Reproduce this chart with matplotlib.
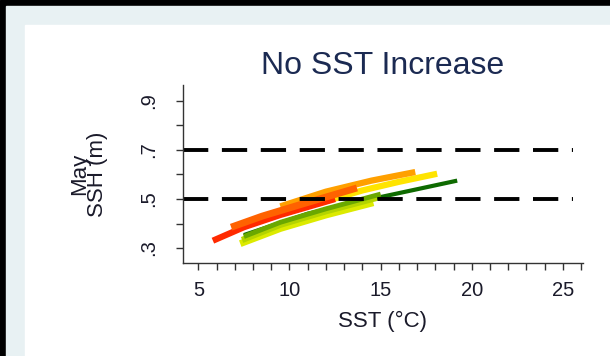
import matplotlib
matplotlib.use('Agg')
import matplotlib.pyplot as plt
from matplotlib.patches import Rectangle
from matplotlib.ticker import MultipleLocator

plt.rcParams['font.family'] = ['Liberation Sans', 'DejaVu Sans']

# series: SST (deg C) vs May SSH (m)
red_x = [5.8, 7.5, 9.5, 12.5]
red_y = [0.33, 0.385, 0.435, 0.50]
orange_red_x = [6.8, 8.5, 10.5, 13.7]
orange_red_y = [0.385, 0.43, 0.475, 0.545]
orange_x = [9.5, 12.0, 14.5, 16.9]
orange_y = [0.47, 0.53, 0.575, 0.61]
yellow_x = [11.5, 14.0, 16.0, 18.1]
yellow_y = [0.48, 0.535, 0.57, 0.603]
lime_x = [7.3, 9.5, 12.0, 14.6]
lime_y = [0.318, 0.38, 0.435, 0.485]
yellowgreen_x = [7.4, 9.5, 12.0, 14.8]
yellowgreen_y = [0.333, 0.395, 0.45, 0.505]
green_x = [7.5, 9.5, 12.0, 15.0]
green_y = [0.347, 0.405, 0.46, 0.52]
darkgreen_x = [7.5, 11.0, 15.0, 19.2]
darkgreen_y = [0.353, 0.44, 0.508, 0.575]

thresholds = [0.5, 0.7]
xticks = [5, 10, 15, 20, 25]
yticks = [0.3, 0.5, 0.7, 0.9]
ytick_labels = ['.3', '.5', '.7', '.9']

fig = plt.figure(figsize=(6.1, 3.56), dpi=100)
fig.patch.set_facecolor('white')
W, H = 610, 356
# frame of the screenshot
fig.add_artist(Rectangle((0, 0), 1, 1, transform=fig.transFigure, color='black', zorder=-3))
fig.add_artist(Rectangle((6 / W, 0), 1, 1 - 6 / H, transform=fig.transFigure, color='#e8f1f3', zorder=-2))
fig.add_artist(Rectangle((25 / W, 0), 1, 1 - 25 / H, transform=fig.transFigure, color='white', zorder=-1))

ax = fig.add_axes([183 / W, 1 - 263 / H, 400 / W, 178 / H])
ax.patch.set_alpha(0)

series = [
    (darkgreen_x, darkgreen_y, '#0e6a00', 3.0),
    (yellow_x, yellow_y, '#ffe400', 4.5),
    (orange_x, orange_y, '#ffa000', 4.5),
    (red_x, red_y, '#ff2a00', 4.5),
    (orange_red_x, orange_red_y, '#ff6200', 5.0),
    (lime_x, lime_y, '#dcea00', 5.0),
    (yellowgreen_x, yellowgreen_y, '#b4d400', 4.5),
    (green_x, green_y, '#6aa800', 3.5),
]
for xs, ys, c, w in series:
    ax.plot(xs, ys, color=c, lw=w, solid_capstyle='butt')

for t in thresholds:
    ax.axhline(t, xmax=0.975, color='black', lw=2.8, dashes=(6.5, 3.5))

ax.set_xlim(4.16, 26.1)
ax.set_ylim(0.239, 0.965)
ax.spines['top'].set_visible(False)
ax.spines['right'].set_visible(False)
for s in ('left', 'bottom'):
    ax.spines[s].set_color('#333333')
    ax.spines[s].set_linewidth(1.0)

ax.set_xticks(xticks)
ax.xaxis.set_minor_locator(MultipleLocator(1))
ax.set_yticks(yticks)
ax.set_yticklabels(ytick_labels, rotation=90, va='center')
ax.yaxis.set_minor_locator(MultipleLocator(0.1))
ax.tick_params(which='both', length=5, width=1, color='#333333', direction='out')
ax.tick_params(axis='x', labelsize=14.5, labelcolor='#1a1a2a', pad=8)
ax.tick_params(axis='y', labelsize=14.5, labelcolor='#1a1a2a', pad=13)

ax.set_title('No SST Increase', fontsize=23, color='#1b2a52', pad=8)
ax.set_xlabel('SST (°C)', fontsize=16, color='#1a1a2a', labelpad=8)
ax.set_ylabel('May\nSSH (m)', fontsize=16, color='#1a1a2a', linespacing=0.85, labelpad=22)

fig.savefig('out.png', dpi=100)
